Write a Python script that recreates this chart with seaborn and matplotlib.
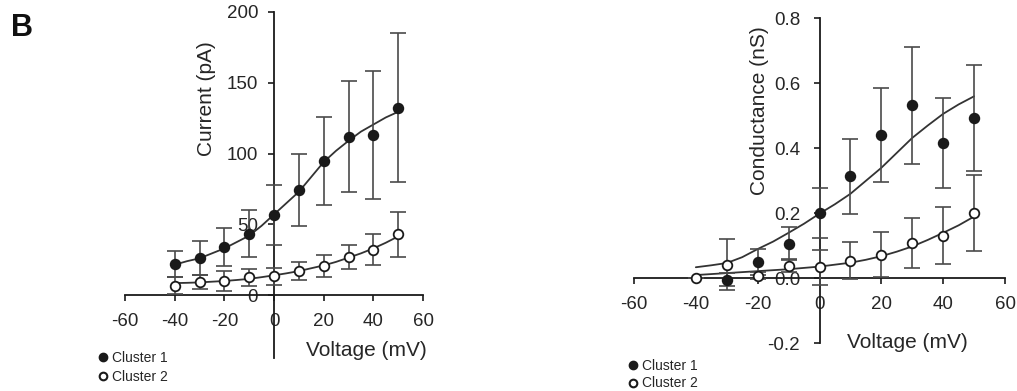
import numpy as np
import pandas as pd
import matplotlib
matplotlib.use("Agg")
import matplotlib.pyplot as plt
from matplotlib.lines import Line2D
import seaborn as sns

# ---------------- data ----------------
voltage = [-40, -30, -20, -10, 0, 10, 20, 30, 40, 50]

# Panel 1: current (pA)
current_c1 = [22, 26.5, 34, 43.5, 56.5, 74.5, 95, 112, 113, 132.5]
current_c1_err = [9.5, 12, 13.5, 16.5, 21, 25.5, 31, 39, 45, 52.5]
current_c2 = [6.5, 9.5, 10, 12.5, 13.5, 17, 20.5, 27, 32, 43]
current_c2_err = [6, 5, 7, 6, 6, 6.5, 8, 8.5, 11, 16]

fit_voltage = [-40, -35, -30, -25, -20, -15, -10, -5, 0, 5, 10, 15, 20, 25, 30, 35, 40, 45, 50]
current_fit_c1 = [21.5, 24, 26, 29.5, 33, 37.5, 42, 49, 57, 65, 73, 83.5, 94, 102, 109, 115.5, 120.5, 125.5, 129.5]
current_fit_c2 = [8.5, 8.7, 9, 9.5, 10, 10.7, 11.5, 12.7, 14, 15.4, 17, 19, 21, 23.5, 26.5, 29.5, 33, 37, 41.5]

# Panel 2: conductance (nS)
cond_voltage_c1 = [-30, -20, -10, 0, 10, 20, 30, 40, 50]
cond_c1 = [-0.005, 0.049, 0.107, 0.201, 0.314, 0.442, 0.532, 0.417, 0.493]
cond_c1_err = [0.02, 0.04, 0.05, 0.078, 0.115, 0.145, 0.18, 0.139, 0.163]
cond_c2 = [0.0, 0.042, 0.008, 0.039, 0.034, 0.054, 0.073, 0.109, 0.131, 0.2]
cond_c2_err = [0.0, 0.079, 0.01, 0.02, 0.054, 0.057, 0.07, 0.076, 0.087, 0.117]
cond_fit_c1 = [0.034, 0.04, 0.047, 0.065, 0.09, 0.113, 0.14, 0.168, 0.199, 0.228, 0.26, 0.3, 0.34, 0.386, 0.432, 0.47, 0.506, 0.535, 0.56]
cond_fit_c2 = [0.01, 0.013, 0.016, 0.019, 0.022, 0.025, 0.028, 0.032, 0.036, 0.042, 0.048, 0.057, 0.068, 0.082, 0.098, 0.118, 0.14, 0.163, 0.19]

x_ticks = [-60, -40, -20, 0, 20, 40, 60]
current_ticks = [0, 50, 100, 150, 200]
cond_ticks = [-0.2, 0.0, 0.2, 0.4, 0.6, 0.8]

# ---------------- style ----------------
sns.set_theme(style="white")
plt.rcParams["font.family"] = ["Liberation Sans", "DejaVu Sans"]

INK = "#1a1a1a"
LINE = "#333333"
ERR = "#4a4a4a"
TXT = "#262626"

fig = plt.figure(figsize=(10.17, 3.91), dpi=100)
W, H = 1017, 391


def px_axes(x0, x1, ytop, ybot):
    return fig.add_axes([x0 / W, 1 - ybot / H, (x1 - x0) / W, (ybot - ytop) / H])


def style_axes(ax, xlim, ylim, yticks, yfmt, ypad):
    ax.set_facecolor("none")
    ax.set_xlim(*xlim)
    ax.set_ylim(*ylim)
    ax.spines["right"].set_visible(False)
    ax.spines["top"].set_visible(False)
    ax.spines["left"].set_position(("data", 0))
    ax.spines["bottom"].set_position(("data", 0))
    for s in ("left", "bottom"):
        ax.spines[s].set_color(INK)
        ax.spines[s].set_linewidth(1.3)
    ax.set_xticks(x_ticks)
    ax.set_xticklabels([str(t) for t in x_ticks])
    ax.set_yticks(yticks)
    ax.set_yticklabels([yfmt(t) for t in yticks])
    ax.tick_params(axis="both", direction="out", length=4, width=1.2,
                   colors=INK, labelsize=13.5, labelcolor=TXT,
                   bottom=True, left=True)
    ax.tick_params(axis="x", pad=9)
    ax.tick_params(axis="y", pad=ypad)
    ax.grid(False)


def draw_series(ax, x, y, err, fitx, fity, filled):
    sns.lineplot(x=fitx, y=fity, ax=ax, color=LINE, linewidth=1.3,
                 estimator=None, sort=False, zorder=2)
    ax.errorbar(x, y, yerr=err, fmt="none", ecolor=ERR, elinewidth=1.2,
                capsize=5.5, capthick=1.2, zorder=3)
    sns.scatterplot(x=x, y=y, ax=ax, s=48, marker="o",
                    facecolor=INK if filled else "white",
                    edgecolor=INK, linewidth=1.3, zorder=4)


# ---------------- left panel ----------------
ax1 = px_axes(125, 423, 12, 358)
style_axes(ax1, (-60, 60), (-44.4, 200), current_ticks, lambda t: f"{t:g}", 7.5)
draw_series(ax1, voltage, current_c1, current_c1_err, fit_voltage, current_fit_c1, True)
draw_series(ax1, voltage, current_c2, current_c2_err, fit_voltage, current_fit_c2, False)
ax1.set_xlabel("Voltage (mV)", fontsize=15, color=TXT, ha="right", va="center")
ax1.xaxis.set_label_coords(1.013, 0.023)
ax1.set_ylabel("Current (pA)", fontsize=15, color=TXT, va="center", ha="center")
ax1.yaxis.set_label_coords(0.275, 0.751)

# ---------------- right panel ----------------
ax2 = px_axes(634, 1005, 18.3, 343.3)
style_axes(ax2, (-60, 60), (-0.2, 0.8), cond_ticks, lambda t: f"{t:.1f}", 10)
draw_series(ax2, cond_voltage_c1, cond_c1, cond_c1_err, fit_voltage, cond_fit_c1, True)
draw_series(ax2, voltage, cond_c2, cond_c2_err, fit_voltage, cond_fit_c2, False)
ax2.set_xlabel("Voltage (mV)", fontsize=15, color=TXT, ha="right", va="center")
ax2.xaxis.set_label_coords(0.900, 0.004)
ax2.set_ylabel("Conductance (nS)", fontsize=15, color=TXT, va="center", ha="center")
ax2.yaxis.set_label_coords(0.337, 0.715)

# ---------------- legends ----------------
handles = [
    Line2D([], [], linestyle="none", marker="o", markersize=6,
           markerfacecolor=INK, markeredgecolor=INK, label="Cluster 1"),
    Line2D([], [], linestyle="none", marker="o", markersize=5.5,
           markerfacecolor="white", markeredgecolor=INK, markeredgewidth=1.5,
           label="Cluster 2"),
]
for (lx, ly, sp) in [(99 / W, 1 - 351 / H, 0.35), (629 / W, 1 - 359 / H, 0.25)]:
    fig.legend(handles=handles, loc="upper left", bbox_to_anchor=(lx, ly),
               frameon=False, fontsize=10, handlelength=0.6, handletextpad=0.35,
               labelspacing=sp, borderpad=0, borderaxespad=0,
               labelcolor=TXT)

fig.text(11 / W, 1 - 13 / H, "B", fontsize=22, fontweight="bold",
         color="#111111", ha="left", va="top")

fig.savefig("out.png", dpi=100)
